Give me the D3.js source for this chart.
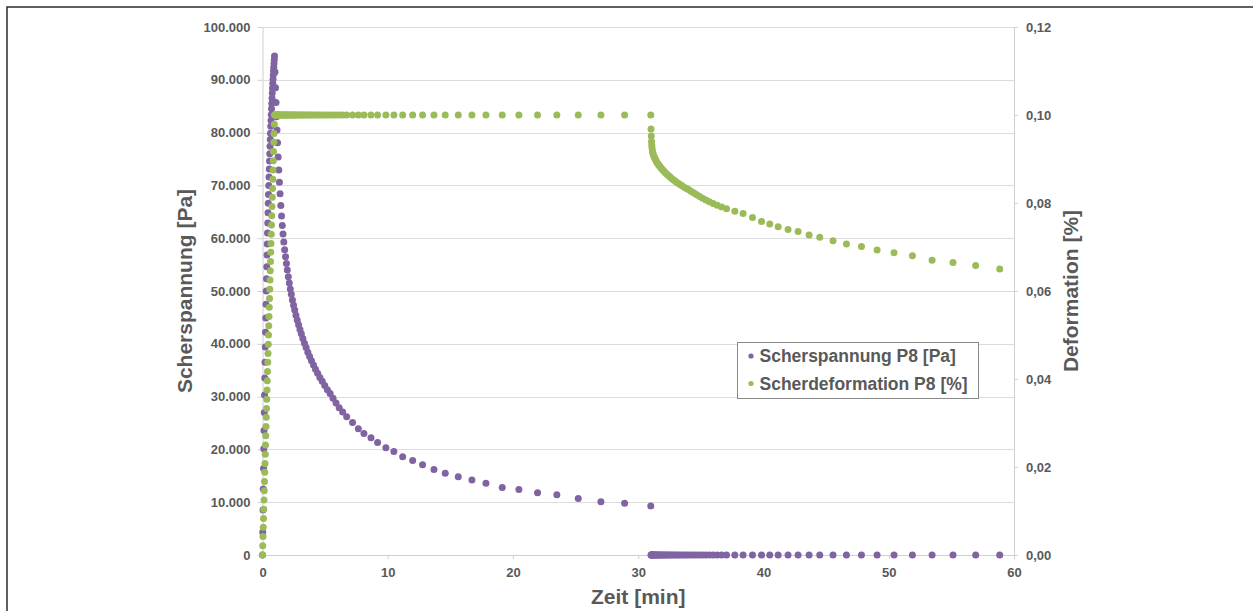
<!DOCTYPE html>
<html>
<head>
<meta charset="utf-8">
<script src="https://cdn.jsdelivr.net/npm/d3@7"></script>
<style>
  html, body { margin: 0; padding: 0; background: #fff; }
  svg { display: block; font-family: "Liberation Sans", Arial, sans-serif; }
</style>
</head>
<body>
<svg id="chart" width="1253" height="611"></svg>
<script>
// Belastungsphase: Deformation wird bis 0,10 % aufgebracht (Zeit in min)
const zeitBelastung = [
  0.00, 0.02, 0.04, 0.06, 0.08, 0.10, 0.12, 0.14, 0.16, 0.18,
  0.20, 0.22, 0.24, 0.26, 0.28, 0.30, 0.32, 0.34, 0.36, 0.38,
  0.40, 0.42, 0.44, 0.46, 0.48, 0.50, 0.52, 0.54, 0.56, 0.58,
  0.60, 0.62, 0.64, 0.66, 0.68, 0.70, 0.72, 0.74, 0.76, 0.78,
  0.80, 0.82, 0.84, 0.86, 0.88, 0.90, 0.92, 0.94, 0.96
];
const spannungBelastung = [
  0, 4300, 8500, 12500, 16400, 20100, 23600, 27000, 30300, 33500,
  36500, 39400, 42200, 44900, 47500, 50000, 52300, 54600, 56800, 58900,
  61000, 62900, 64800, 66600, 68300, 70000, 71600, 73100, 74600, 76000,
  77400, 78700, 79900, 81200, 82300, 83400, 84500, 85500, 86500, 87500,
  88400, 89300, 90100, 90900, 91700, 92400, 93100, 93800, 94500
];
const deformationBelastung = [
  0.0000, 0.0021, 0.0042, 0.0063, 0.0083, 0.0104, 0.0125, 0.0146, 0.0167, 0.0188,
  0.0208, 0.0229, 0.0250, 0.0271, 0.0292, 0.0313, 0.0333, 0.0354, 0.0375, 0.0396,
  0.0417, 0.0438, 0.0458, 0.0479, 0.0500, 0.0521, 0.0542, 0.0563, 0.0583, 0.0604,
  0.0625, 0.0646, 0.0667, 0.0688, 0.0708, 0.0729, 0.0750, 0.0771, 0.0792, 0.0813,
  0.0833, 0.0854, 0.0875, 0.0896, 0.0917, 0.0938, 0.0958, 0.0979, 0.1000
];

// Relaxationsphase: Deformation konstant, Spannung baut sich ab
const zeitRelaxation = [
  1.00, 1.04, 1.08, 1.12, 1.16, 1.20, 1.25, 1.30, 1.35, 1.40,
  1.46, 1.52, 1.58, 1.64, 1.70, 1.77, 1.84, 1.91, 1.98, 2.06,
  2.14, 2.22, 2.30, 2.39, 2.48, 2.57, 2.67, 2.77, 2.88, 2.99,
  3.10, 3.22, 3.35, 3.48, 3.62, 3.76, 3.91, 4.07, 4.23, 4.40,
  4.58, 4.77, 4.97, 5.18, 5.40, 5.63, 5.87, 6.12, 6.40, 6.72,
  7.19, 7.65, 8.10, 8.66, 9.19, 9.85, 10.49, 11.19, 11.99, 12.78,
  13.69, 14.59, 15.63, 16.72, 17.84, 19.14, 20.47, 21.96, 23.50, 25.21,
  27.02, 28.91, 31.00
];
const spannungRelaxation = [
  91500, 88500, 85700, 83000, 80500, 78100, 75400, 72900, 70600, 68400,
  66200, 64200, 62400, 60800, 59300, 57800, 56500, 55200, 54000, 52700,
  51500, 50400, 49400, 48300, 47300, 46400, 45400, 44500, 43600, 42700,
  41900, 41000, 40100, 39300, 38400, 37600, 36800, 36000, 35200, 34400,
  33600, 32900, 32100, 31300, 30600, 29700, 28800, 27900, 27100, 26200,
  25100, 23900, 23000, 22200, 21300, 20300, 19600, 18600, 17900, 17100,
  16200, 15500, 14800, 14200, 13600, 12800, 12400, 11800, 11400, 10700,
  10100, 9800, 9300
];
const deformationRelaxation = [
  0.1, 0.1, 0.1, 0.1, 0.1, 0.1, 0.1, 0.1, 0.1, 0.1,
  0.1, 0.1, 0.1, 0.1, 0.1, 0.1, 0.1, 0.1, 0.1, 0.1,
  0.1, 0.1, 0.1, 0.1, 0.1, 0.1, 0.1, 0.1, 0.1, 0.1,
  0.1, 0.1, 0.1, 0.1, 0.1, 0.1, 0.1, 0.1, 0.1, 0.1,
  0.1, 0.1, 0.1, 0.1, 0.1, 0.1, 0.1, 0.1, 0.1, 0.1,
  0.1, 0.1, 0.1, 0.1, 0.1, 0.1, 0.1, 0.1, 0.1, 0.1,
  0.1, 0.1, 0.1, 0.1, 0.1, 0.1, 0.1, 0.1, 0.1, 0.1,
  0.1, 0.1, 0.1
];

// Erholungsphase: Spannung entlastet, Deformation geht zurück
const zeitErholung = [
  31.02, 31.04, 31.06, 31.08, 31.10, 31.13, 31.16, 31.20, 31.25, 31.30,
  31.36, 31.42, 31.48, 31.55, 31.62, 31.70, 31.78, 31.87, 31.96, 32.06,
  32.16, 32.27, 32.38, 32.50, 32.62, 32.75, 32.89, 33.03, 33.18, 33.34,
  33.50, 33.67, 33.85, 34.04, 34.24, 34.45, 34.67, 34.90, 35.14, 35.40,
  35.68, 35.98, 36.30, 36.66, 37.05, 37.71, 38.37, 39.12, 39.84, 40.50,
  41.17, 41.96, 42.76, 43.64, 44.49, 45.55, 46.62, 47.82, 49.07, 50.42,
  51.89, 53.46, 55.13, 56.94, 58.86
];
const spannungErholung = [
  0, 0, 0, 0, 0, 0, 0, 0, 0, 0,
  0, 0, 0, 0, 0, 0, 0, 0, 0, 0,
  0, 0, 0, 0, 0, 0, 0, 0, 0, 0,
  0, 0, 0, 0, 0, 0, 0, 0, 0, 0,
  0, 0, 0, 0, 0, 0, 0, 0, 0, 0,
  0, 0, 0, 0, 0, 0, 0, 0, 0, 0,
  0, 0, 0, 0, 0
];
const deformationErholung = [
  0.0968, 0.0952, 0.0940, 0.0931, 0.0925, 0.0919, 0.0914, 0.0910, 0.0906, 0.0903,
  0.0900, 0.0896, 0.0893, 0.0890, 0.0887, 0.0884, 0.0881, 0.0878, 0.0875, 0.0872,
  0.0869, 0.0866, 0.0863, 0.0860, 0.0857, 0.0854, 0.0851, 0.0848, 0.0845, 0.0842,
  0.0839, 0.0836, 0.0833, 0.0830, 0.0826, 0.0823, 0.0819, 0.0815, 0.0811, 0.0807,
  0.0803, 0.0799, 0.0795, 0.0791, 0.0787, 0.0781, 0.0776, 0.0767, 0.0758, 0.0752,
  0.0746, 0.0740, 0.0735, 0.0727, 0.0722, 0.0714, 0.0707, 0.0701, 0.0693, 0.0687,
  0.0680, 0.0670, 0.0665, 0.0658, 0.0650
];

// Achsen und Beschriftungen
const xTicks = [0, 10, 20, 30, 40, 50, 60];
const yLeftTicks = [0, 10000, 20000, 30000, 40000, 50000, 60000, 70000, 80000, 90000, 100000];
const yRightTicks = [0, 0.02, 0.04, 0.06, 0.08, 0.10, 0.12];
const seriesNames = ["Scherspannung P8 [Pa]", "Scherdeformation P8 [%]"];
const seriesColors = ["#8064a2", "#9bbb59"];
const xTitle = "Zeit [min]";
const yLeftTitle = "Scherspannung [Pa]";
const yRightTitle = "Deformation [%]";

// ---------------------------------------------------------------
const zeit = zeitBelastung.concat(zeitRelaxation, zeitErholung);
const spannung = spannungBelastung.concat(spannungRelaxation, spannungErholung);
const deformation = deformationBelastung.concat(deformationRelaxation, deformationErholung);

const de = d3.formatLocale({ decimal: ",", thousands: ".", grouping: [3], currency: ["", " €"] });
const fmtLeft = de.format(",.0f");
const fmtRight = de.format(",.2f");

const svg = d3.select("#chart");
const textColor = "#595959";
const axisColor = "#d0d0d0";

const plot = { left: 262.5, right: 1014, top: 27, bottom: 555 };

const x = d3.scaleLinear().domain([0, 60]).range([plot.left, plot.right]);
const yL = d3.scaleLinear().domain([0, 100000]).range([plot.bottom, plot.top]);
const yR = d3.scaleLinear().domain([0, 0.12]).range([plot.bottom, plot.top]);

// Rahmen
svg.append("rect")
  .attr("x", 7).attr("y", 7).attr("width", 1400).attr("height", 800)
  .attr("fill", "none").attr("stroke", "#2b2b2b").attr("stroke-width", 1.5);

// Gitterlinien
svg.append("g").selectAll("line")
  .data(yLeftTicks.filter(d => d > 0))
  .join("line")
  .attr("x1", plot.left).attr("x2", plot.right)
  .attr("y1", d => Math.round(yL(d)) + 0.5).attr("y2", d => Math.round(yL(d)) + 0.5)
  .attr("stroke", "#dcdcdc").attr("stroke-width", 1);

function styleAxis(g) {
  g.selectAll(".domain").attr("stroke", axisColor);
  g.selectAll(".tick line").attr("stroke", axisColor);
  g.selectAll(".tick text")
    .attr("fill", textColor)
    .style("font-size", "13px")
    .style("font-weight", "bold")
    .style("font-family", "'Liberation Sans', Arial, sans-serif");
}

svg.append("g")
  .attr("transform", `translate(0,${plot.bottom})`)
  .call(d3.axisBottom(x).tickValues(xTicks).tickFormat(d3.format("d")).tickSize(4).tickSizeOuter(0).tickPadding(9))
  .call(styleAxis);

svg.append("g")
  .attr("transform", `translate(${plot.left},0)`)
  .call(d3.axisLeft(yL).tickValues(yLeftTicks).tickFormat(fmtLeft).tickSize(5).tickSizeOuter(0).tickPadding(7))
  .call(styleAxis);

svg.append("g")
  .attr("transform", `translate(${plot.right},0)`)
  .call(d3.axisRight(yR).tickValues(yRightTicks).tickFormat(fmtRight).tickSize(4).tickSizeOuter(0).tickPadding(8))
  .call(styleAxis);

// Achsentitel
const titleStyle = sel => sel
  .attr("fill", textColor)
  .style("font-size", "21px")
  .style("font-weight", "bold")
  .attr("text-anchor", "middle");

svg.append("text").text(xTitle)
  .attr("x", (plot.left + plot.right) / 2).attr("y", 604)
  .call(titleStyle);

svg.append("text").text(yLeftTitle)
  .attr("transform", `translate(192,${(plot.top + plot.bottom) / 2}) rotate(-90)`)
  .call(titleStyle);

svg.append("text").text(yRightTitle)
  .attr("transform", `translate(1078,${(plot.top + plot.bottom) / 2}) rotate(-90)`)
  .call(titleStyle);

// Messpunkte: Scherspannung (linke Achse), Scherdeformation (rechte Achse)
svg.append("g").selectAll("circle")
  .data(d3.range(zeit.length))
  .join("circle")
  .attr("cx", i => x(zeit[i]))
  .attr("cy", i => yL(spannung[i]))
  .attr("r", 3.5)
  .attr("fill", seriesColors[0]);

svg.append("g").selectAll("circle")
  .data(d3.range(zeit.length))
  .join("circle")
  .attr("cx", i => x(zeit[i]))
  .attr("cy", i => yR(deformation[i]))
  .attr("r", 3.5)
  .attr("fill", seriesColors[1]);

// Legende
const legend = svg.append("g").attr("transform", "translate(737.5,342.5)");
legend.append("rect")
  .attr("width", 241).attr("height", 56)
  .attr("fill", "#fff").attr("stroke", "#8a8a8a").attr("stroke-width", 1);
seriesNames.forEach((name, i) => {
  const yy = 13.5 + i * 27.5;
  legend.append("circle").attr("cx", 13.5).attr("cy", yy).attr("r", 2.6).attr("fill", seriesColors[i]);
  legend.append("text").text(name)
    .attr("x", 22).attr("y", yy)
    .attr("dy", "0.36em")
    .attr("fill", textColor)
    .style("font-size", "17.5px")
    .style("font-weight", "bold");
});
</script>
</body>
</html>
